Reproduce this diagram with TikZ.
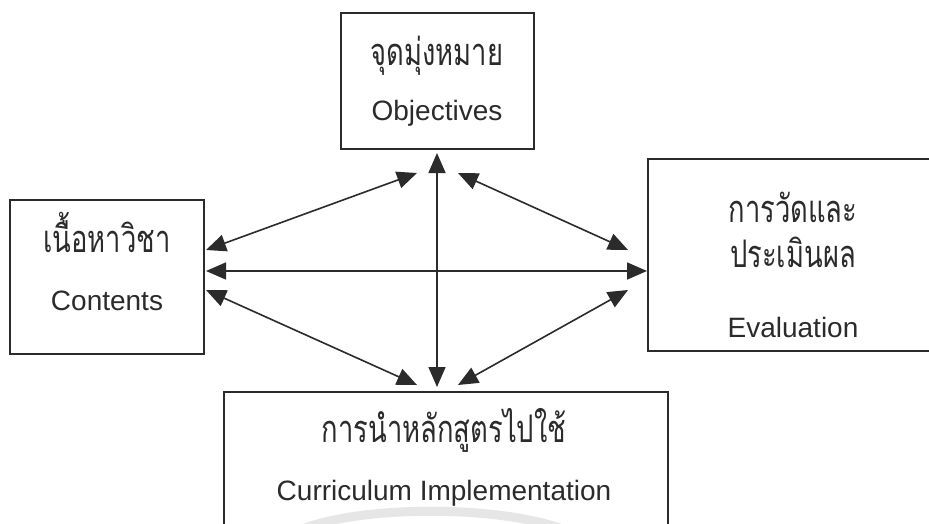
\documentclass[tikz,border=0pt]{standalone}
\usepackage{fontspec}
\setmainfont{Liberation Sans}
\newfontfamily\thaifont[Script=Thai,FakeStretch=0.72]{Loma}
\usetikzlibrary{arrows.meta}
\definecolor{ink}{HTML}{2B2B2B}
\definecolor{wm}{HTML}{E6E6E6}
\tikzset{
  box/.style={draw=ink, line width=1.6pt, inner sep=0pt},
  thai/.style={text=ink, inner sep=0pt, anchor=base, font=\thaifont\fontsize{38}{44}\selectfont},
  eng/.style={text=ink, inner sep=0pt, anchor=base, font=\fontsize{28}{32}\selectfont},
  link/.style={draw=ink, line width=1.6pt, {Triangle[length=20pt,width=17pt]}-{Triangle[length=20pt,width=17pt]}}
}
\begin{document}
\begin{tikzpicture}[x=1pt,y=-1pt]
\useasboundingbox (0,0) rectangle (929,524);
\clip (0,0) rectangle (929,524);
\fill[white] (0,0) rectangle (929,524);
% faint watermark arc
\draw[wm, line width=9pt] (300,530) .. controls (360,505) and (500,505) .. (565,530);
% boxes
\node[box, minimum width=193pt, minimum height=136pt] (obj) at (437.5,81) {};
\node[box, minimum width=194pt, minimum height=154pt] (con) at (107,277) {};
\node[box, minimum width=292pt, minimum height=192pt] (eva) at (794,255) {};
\node[box, minimum width=444pt, minimum height=168pt] (imp) at (446,476) {};
% texts
\node[thai] (objt) at (437,66) {จุดมุ่งหมาย};
\node[eng]  (obje) at (437,121) {Objectives};
\node[thai] (cont) at (107,252) {เนื้อหาวิชา};
\node[eng]  (cone) at (107,310) {Contents};
\node[thai] (evat1) at (793,222) {การวัดและ};
\node[thai] (evat2) at (793,267) {ประเมินผล};
\node[eng]  (evae) at (793,337) {Evaluation};
\node[thai] (impt) at (444,442) {การนำหลักสูตรไปใช้};
\node[eng]  (impe) at (444,500) {Curriculum Implementation};
% arrow end points
\coordinate (a1) at (206,250);
\coordinate (a2) at (417,173);
\coordinate (b1) at (206,271);
\coordinate (b2) at (647,271);
\coordinate (c1) at (206,290);
\coordinate (c2) at (417,385);
\coordinate (d1) at (437,153);
\coordinate (d2) at (437,387);
\coordinate (e1) at (458,173);
\coordinate (e2) at (628,250);
\coordinate (f1) at (458,385);
\coordinate (f2) at (628,290);
\draw[link] (a1) -- (a2);
\draw[link] (b1) -- (b2);
\draw[link] (c1) -- (c2);
\draw[link] (d1) -- (d2);
\draw[link] (e1) -- (e2);
\draw[link] (f1) -- (f2);
\end{tikzpicture}
\end{document}
